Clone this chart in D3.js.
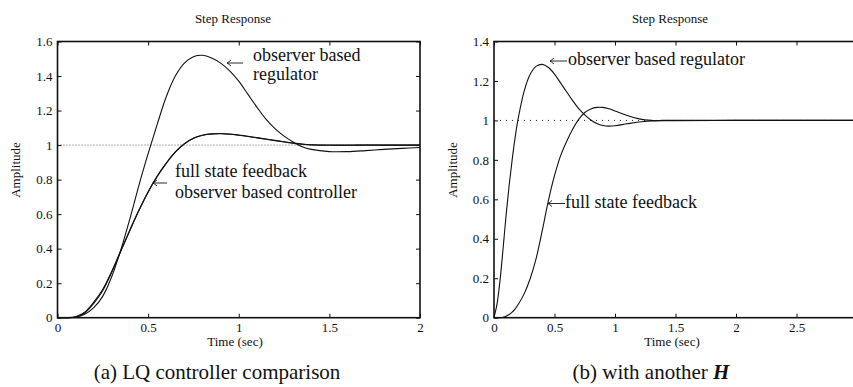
<!DOCTYPE html>
<html>
<head>
<meta charset="utf-8">
<script src="https://cdn.jsdelivr.net/npm/d3@7"></script>
<style>
  html, body { margin: 0; padding: 0; background: #fff; }
  svg { display: block; }
  text { font-family: "Liberation Serif", "Times New Roman", serif; fill: #111; }
</style>
</head>
<body>
<svg id="chart" width="853" height="387"></svg>
<script>
// ---------- Data (a) LQ controller comparison ----------
const timeA = [0,0.05,0.1,0.15,0.2,0.25,0.3,0.35,0.4,0.45,0.5,0.55,0.6,0.65,0.7,0.75,0.8,0.85,0.9,0.95,1.0,1.05,1.1,1.15,1.2,1.25,1.3,1.35,1.4,1.5,1.6,1.7,1.8,1.9,2.0];
const regulatorA = [0,0,0.003,0.02,0.058,0.125,0.24,0.395,0.575,0.77,0.95,1.12,1.28,1.40,1.475,1.512,1.52,1.505,1.475,1.43,1.37,1.295,1.22,1.15,1.095,1.052,1.018,0.99,0.975,0.962,0.962,0.968,0.975,0.981,0.986];
const fullStateA = [0,0,0.006,0.032,0.09,0.165,0.27,0.39,0.51,0.625,0.73,0.82,0.895,0.96,1.008,1.04,1.057,1.064,1.066,1.063,1.057,1.05,1.042,1.034,1.026,1.018,1.011,1.005,1.001,0.999,0.999,1.0,1.0,1.0,1.0];
const controllerA = [0,0,0.004,0.027,0.083,0.158,0.264,0.387,0.507,0.622,0.727,0.818,0.894,0.959,1.007,1.04,1.057,1.065,1.067,1.064,1.058,1.051,1.043,1.035,1.027,1.019,1.012,1.006,1.002,1.0,1.0,1.0,1.0,1.0,1.0];
const xTicksA = [0,0.5,1,1.5,2];
const yTicksA = [0,0.2,0.4,0.6,0.8,1,1.2,1.4,1.6];

// ---------- Data (b) with another H ----------
const timeB = [0,0.025,0.05,0.075,0.1,0.125,0.15,0.175,0.2,0.25,0.3,0.35,0.4,0.45,0.5,0.55,0.6,0.65,0.7,0.75,0.8,0.85,0.9,0.95,1.0,1.1,1.2,1.3,1.4,1.5,2.0,2.5,3.0];
const regulatorB = [0,0.07,0.19,0.35,0.52,0.67,0.8,0.915,1.01,1.15,1.235,1.275,1.284,1.268,1.235,1.19,1.145,1.1,1.06,1.028,1.002,0.984,0.974,0.971,0.973,0.983,0.992,0.997,1.0,1.0,1.0,1.0,1.0];
const fullStateB = [0,0,0,0.002,0.007,0.016,0.028,0.045,0.067,0.122,0.2,0.305,0.445,0.595,0.72,0.82,0.893,0.955,1.005,1.04,1.058,1.066,1.066,1.059,1.048,1.025,1.008,1.0,0.998,0.999,1.0,1.0,1.0];
const xTicksB = [0,0.5,1,1.5,2,2.5,3];
const xLabelsB = ["0","0.5","1","1.5","2","2.5",""];
const yTicksB = [0,0.2,0.4,0.6,0.8,1,1.2,1.4];

const svg = d3.select("#chart");

function panel(opt) {
  const x = d3.scaleLinear().domain(opt.xDomain).range([opt.left, opt.right]);
  const y = d3.scaleLinear().domain(opt.yDomain).range([opt.bottom, opt.top]);
  const g = svg.append("g");

  // reference line at 1
  g.append("line")
    .attr("x1", x(opt.xDomain[0])).attr("x2", x(opt.xDomain[1]))
    .attr("y1", y(1)).attr("y2", y(1))
    .attr("stroke", opt.dotColor).attr("stroke-width", 1)
    .attr("stroke-dasharray", opt.dash);

  const line = d3.line().x(d => x(d[0])).y(d => y(d[1])).curve(d3.curveCatmullRom.alpha(0.5));
  opt.series.forEach(s => {
    g.append("path")
      .attr("d", line(opt.time.map((t, i) => [t, s[i]])))
      .attr("fill", "none").attr("stroke", "#111").attr("stroke-width", 1.1);
  });

  const fmt = d => String(d);
  const bottom = g.append("g").attr("transform", `translate(0,${opt.bottom})`)
    .call(d3.axisBottom(x).tickValues(opt.xTicks).tickSizeInner(-4).tickSizeOuter(0).tickPadding(5)
      .tickFormat((d, i) => opt.xLabels ? opt.xLabels[i] : fmt(d)));
  const left = g.append("g").attr("transform", `translate(${opt.left},0)`)
    .call(d3.axisLeft(y).tickValues(opt.yTicks).tickSizeInner(-4).tickSizeOuter(0).tickPadding(5).tickFormat(fmt));
  const top = g.append("g").attr("transform", `translate(0,${opt.top})`)
    .call(d3.axisTop(x).tickValues(opt.xTicks).tickSizeInner(-4).tickSizeOuter(0).tickFormat(""));
  const right = g.append("g").attr("transform", `translate(${opt.right},0)`)
    .call(d3.axisRight(y).tickValues(opt.yTicks).tickSizeInner(-4).tickSizeOuter(0).tickFormat(""));
  [bottom, left, top, right].forEach(a => {
    a.select(".domain").remove();
    a.selectAll(".tick line").attr("stroke", "#111");
    a.selectAll(".tick text").attr("font-size", 13).attr("font-family", "Liberation Serif, Times New Roman, serif").attr("fill", "#111");
  });

  g.append("rect")
    .attr("x", opt.left).attr("y", opt.top)
    .attr("width", opt.right - opt.left).attr("height", opt.bottom - opt.top)
    .attr("fill", "none").attr("stroke", "#111").attr("stroke-width", 1.6);

  g.append("text").attr("x", opt.titleX).attr("y", 23).attr("text-anchor", "middle")
    .attr("font-size", 13).text("Step Response");
  g.append("text").attr("x", opt.xLabelX).attr("y", 346).attr("text-anchor", "middle")
    .attr("font-size", 13).text("Time (sec)");
  g.append("text").attr("transform", `translate(${opt.yLabelX},170) rotate(-90)`)
    .attr("text-anchor", "middle").attr("font-size", 13).text("Amplitude");
  return g;
}

panel({
  left: 57.5, right: 420, top: 41.5, bottom: 317.7,
  xDomain: [0, 2], yDomain: [0, 1.6],
  xTicks: xTicksA, yTicks: yTicksA,
  time: timeA, series: [regulatorA, fullStateA, controllerA],
  dotColor: "#555", dash: "1,2",
  titleX: 233, xLabelX: 235, yLabelX: 20
});

panel({
  left: 494, right: 857, top: 41.5, bottom: 317.7,
  xDomain: [0, 3], yDomain: [0, 1.4],
  xTicks: xTicksB, xLabels: xLabelsB, yTicks: yTicksB,
  time: timeB, series: [regulatorB, fullStateB],
  dotColor: "#222", dash: "1,5",
  titleX: 670, xLabelX: 672, yLabelX: 457
});

// ---------- Annotations ----------
const ann = svg.append("g").attr("font-size", 18);
function arrow(x, yMid, w) {
  const p = d3.path();
  p.moveTo(x + w, yMid); p.lineTo(x, yMid);
  p.moveTo(x + 4, yMid - 3); p.quadraticCurveTo(x + 1.5, yMid - 0.8, x, yMid);
  p.quadraticCurveTo(x + 1.5, yMid + 0.8, x + 4, yMid + 3);
  ann.append("path").attr("d", p.toString()).attr("fill", "none")
    .attr("stroke", "#111").attr("stroke-width", 0.9);
}
arrow(227, 63, 16);
ann.append("text").attr("x", 253).attr("y", 61).text("observer based");
ann.append("text").attr("x", 253).attr("y", 80).text("regulator");
arrow(153, 183, 14);
ann.append("text").attr("x", 175).attr("y", 177).text("full state feedback");
ann.append("text").attr("x", 175).attr("y", 198).text("observer based controller");
arrow(550, 61, 17);
ann.append("text").attr("x", 568).attr("y", 65).text("observer based regulator");
arrow(548, 203.5, 17);
ann.append("text").attr("x", 565).attr("y", 208).text("full state feedback");

// ---------- Captions ----------
svg.append("text").attr("x", 217).attr("y", 379).attr("text-anchor", "middle")
  .attr("font-size", 21).text("(a) LQ controller comparison");
const capB = svg.append("text").attr("x", 651).attr("y", 379).attr("text-anchor", "middle").attr("font-size", 21);
capB.append("tspan").text("(b) with another ");
capB.append("tspan").attr("font-weight", "bold").attr("font-style", "italic").text("H");
</script>
</body>
</html>
